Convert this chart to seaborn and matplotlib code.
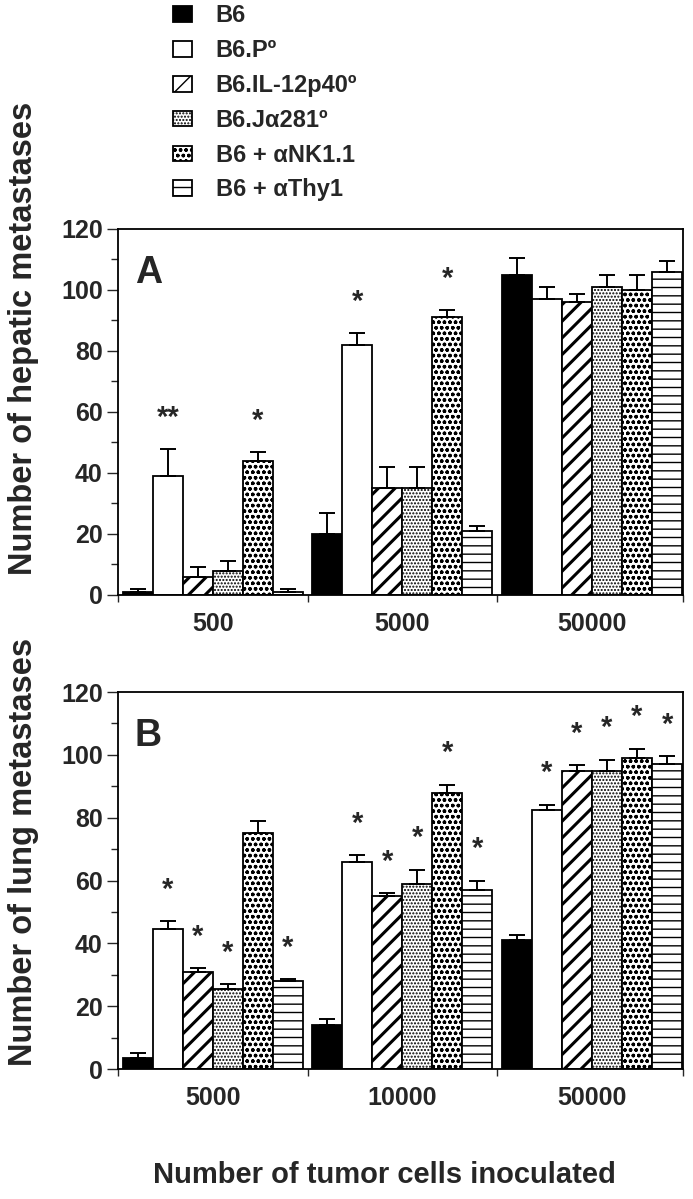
import numpy as np
import pandas as pd
import matplotlib
matplotlib.use("Agg")
import matplotlib.pyplot as plt
from matplotlib.ticker import MultipleLocator, FixedLocator
from matplotlib.patches import Patch
import seaborn as sns

sns.set_style("white")
plt.rcParams["font.family"] = ["Liberation Sans", "DejaVu Sans"]
plt.rcParams["font.weight"] = "bold"

# strains / treatments
strains = ["B6", "B6.Pº", "B6.IL-12p40º", "B6.Jα281º", "B6 + αNK1.1", "B6 + αThy1"]

# panel A: hepatic metastases
hep_doses = ["500", "5000", "50000"]
hep_mean = [
    [1, 39, 6, 8, 44, 1],
    [20, 82, 35, 35, 91, 21],
    [105, 97, 96, 101, 100, 106],
]
hep_err = [
    [1, 9, 3, 3, 3, 1],
    [7, 4, 7, 7, 2.5, 1.5],
    [5.5, 4, 2.5, 4, 5, 3.5],
]
hep_sig = [
    ["", "**", "", "", "*", ""],
    ["", "*", "", "", "*", ""],
    ["", "", "", "", "", ""],
]

# panel B: lung metastases
lung_doses = ["5000", "10000", "50000"]
lung_mean = [
    [3.5, 44.5, 31, 25.5, 75, 28],
    [14, 66, 55, 59, 88, 57],
    [41, 82.5, 95, 95, 99, 97],
]
lung_err = [
    [1.5, 2.5, 1.2, 1.6, 4, 0.6],
    [2, 2, 1, 4.5, 2.5, 3],
    [1.7, 1.6, 1.8, 3.5, 3, 2.5],
]
lung_sig = [
    ["", "*", "*", "*", "", "*"],
    ["", "*", "*", "*", "*", "*"],
    ["", "*", "*", "*", "*", "*"],
]

colors = ["black", "white", "white", "white", "white", "white"]
hatches = [None, None, "//", ".....", "ooo", "--"]
hatch_lw = [1.0, 1.0, 2.2, 1.0, 1.0, 1.0]

fig = plt.figure(figsize=(6.93, 11.99), dpi=100)
axA = fig.add_axes([0.1703, 0.5038, 0.8153, 0.3053])
axB = fig.add_axes([0.1703, 0.1084, 0.8153, 0.3144])


def style_patch(p, k):
    if hatches[k]:
        p.set_hatch(hatches[k])
        if hasattr(p, "set_hatch_linewidth"):
            p.set_hatch_linewidth(hatch_lw[k])


def draw_panel(ax, doses, means, errs, sigs, letter, ylabel):
    rows = []
    for d, m_row in zip(doses, means):
        for s, v in zip(strains, m_row):
            rows.append({"dose": d, "strain": s, "value": v})
    df = pd.DataFrame(rows)
    sns.barplot(data=df, x="dose", y="value", hue="strain", hue_order=strains,
                order=doses, palette=colors, edgecolor="black", linewidth=1.3,
                width=0.95, errorbar=None, legend=False, ax=ax)
    bar_conts = list(ax.containers)
    for k, cont in enumerate(bar_conts):
        for g, bar in enumerate(cont):
            style_patch(bar, k)
            xc = bar.get_x() + bar.get_width() / 2
            top = bar.get_height()
            e = errs[g][k]
            ax.errorbar(xc, top, yerr=[[0], [e]], fmt="none", ecolor="black",
                        elinewidth=1.4, capsize=5.5, capthick=1.4, zorder=3)
            if sigs[g][k]:
                ax.text(xc, top + e + 10, sigs[g][k], ha="center", va="center",
                        fontsize=21, fontweight="bold")
    ax.set_ylim(0, 120)
    ax.set_xlim(-0.5, 2.48)
    ax.yaxis.set_major_locator(MultipleLocator(20))
    ax.yaxis.set_minor_locator(MultipleLocator(10))
    ax.xaxis.set_minor_locator(FixedLocator([-0.5, 0.5, 1.5, 2.48]))
    ax.tick_params(axis="y", which="major", direction="out", length=8, width=1,
                   left=True, labelsize=18, pad=3)
    ax.tick_params(axis="y", which="minor", direction="out", length=5, width=1,
                   left=True)
    ax.tick_params(axis="x", which="major", length=0, labelsize=18, pad=12)
    ax.tick_params(axis="x", which="minor", direction="out", length=5, width=1,
                   bottom=True)
    for t in ax.get_xticklabels() + ax.get_yticklabels():
        t.set_fontweight("bold")
    for sp in ax.spines.values():
        sp.set_visible(True)
        sp.set_color("black")
        sp.set_linewidth(1.3)
    ax.set_xlabel("")
    ax.set_ylabel(ylabel, fontsize=23.5, fontweight="bold")
    ax.text(0.03, 0.93, letter, transform=ax.transAxes, fontsize=27,
            fontweight="bold", va="top", ha="left")


draw_panel(axA, hep_doses, hep_mean, hep_err, hep_sig, "A",
           "Number of hepatic metastases")
draw_panel(axB, lung_doses, lung_mean, lung_err, lung_sig, "B",
           "Number of lung metastases")
axA.yaxis.set_label_coords(-0.14, 0.70)
axB.yaxis.set_label_coords(-0.14, 0.575)

handles = []
for k, c in enumerate(colors):
    h = Patch(facecolor=c, edgecolor="black", linewidth=1.3)
    style_patch(h, k)
    handles.append(h)
fig.legend(handles, strains, loc="upper left", bbox_to_anchor=(0.219, 1.014),
           frameon=False, handlelength=0.8, handleheight=0.65,
           labelspacing=0.5, handletextpad=1.0, prop={"weight": "bold", "size": 17})

fig.text(0.555, 0.02, "Number of tumor cells inoculated", ha="center",
         va="center", fontsize=21, fontweight="bold")

plt.savefig("out.png", dpi=100)
